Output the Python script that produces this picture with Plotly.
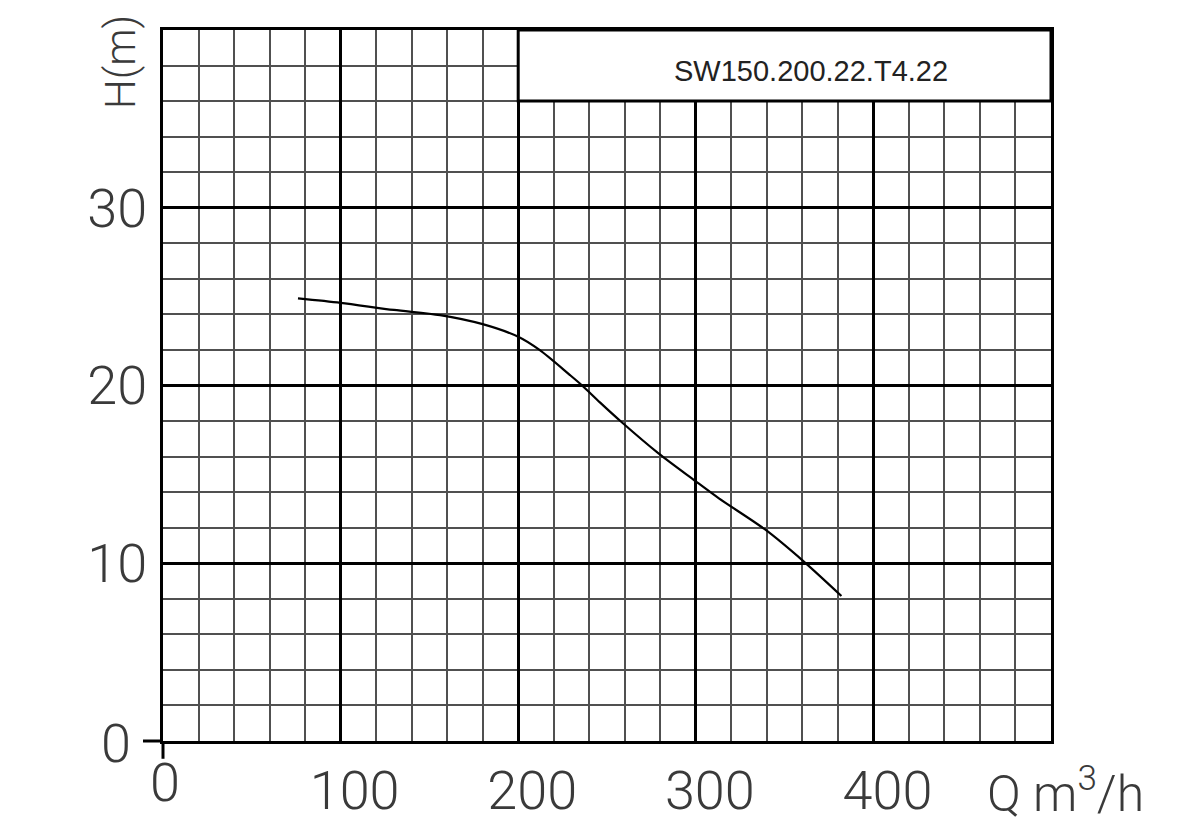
import plotly.graph_objects as go

# Pump curve data
q_flow = [76, 100, 130, 156, 180, 200, 212, 229, 236, 246, 258, 279, 299, 313, 339, 361, 382]
h_head = [24.9, 24.65, 24.25, 23.96, 23.45, 22.74, 22.0, 20.6, 20.0, 19.05, 17.96, 16.18, 14.68, 13.65, 11.9, 10.08, 8.16]
x_ticks = [100, 200, 300, 400]
x_labels = ["100", "200", "300", "400"]
y_ticks = [10, 20, 30]
y_labels = ["10", "20", "30"]
model_name = "SW150.200.22.T4.22"
x_title = "Q m<sup>3</sup>/h"
y_title = "H(m)"

THIN = "Roboto, Liberation Sans Narrow, sans-serif"
tick_font = dict(family=THIN, size=54, color="#3a3a3a", weight=300)

fig = go.Figure()
fig.add_trace(go.Scatter(
    x=q_flow, y=h_head, mode="lines",
    line=dict(color="black", width=2.2, shape="spline", smoothing=0.8),
    hoverinfo="skip",
))

fig.update_layout(
    width=1192, height=824,
    margin=dict(l=155, r=149, t=22, b=91, autoexpand=False),
    paper_bgcolor="white", plot_bgcolor="white",
    showlegend=False,
    xaxis=dict(
        range=[0, 500], tickmode="array", tickvals=x_ticks, ticktext=x_labels,
        ticks="", showgrid=True, gridcolor="black", gridwidth=3,
        minor=dict(tick0=0, dtick=20, showgrid=True, gridcolor="#505050", gridwidth=2),
        showline=True, linecolor="black", linewidth=3, mirror=True,
        zeroline=False, tickfont=tick_font, ticklabelstandoff=0, ticklabelshift=14,
        fixedrange=True, automargin=False,
    ),
    yaxis=dict(
        range=[0, 40], tickmode="array", tickvals=y_ticks, ticktext=y_labels,
        ticks="", showgrid=True, gridcolor="black", gridwidth=3,
        minor=dict(tick0=0, dtick=2, showgrid=True, gridcolor="#505050", gridwidth=2),
        showline=True, linecolor="black", linewidth=3, mirror=True,
        zeroline=False, tickfont=tick_font, ticklabelstandoff=2,
        fixedrange=True, automargin=False,
    ),
    shapes=[
        # model name box
        dict(type="rect", xref="x", yref="y", x0=200, x1=500, y0=36, y1=40,
             fillcolor="white", line=dict(color="black", width=3), layer="above"),
        # axis line extensions at origin
        dict(type="line", xref="paper", yref="paper", x0=-0.0225, x1=0, y0=0, y1=0,
             line=dict(color="black", width=3)),
        dict(type="line", xref="paper", yref="paper", x0=0, x1=0, y0=-0.025, y1=0,
             line=dict(color="black", width=3)),
    ],
    annotations=[
        dict(text=model_name, x=365, y=37.7, xref="x", yref="y", showarrow=False,
             font=dict(family="Liberation Sans, Arial, sans-serif", size=29, color="#222"),
             xanchor="center", yanchor="middle"),
        dict(text="0", x=0, y=0, xref="x", yref="y", showarrow=False,
             font=tick_font, xanchor="right", yanchor="middle", xshift=-30, yshift=-2),
        dict(text="0", x=0, y=0, xref="x", yref="y", showarrow=False,
             font=tick_font, xanchor="center", yanchor="top", xshift=2, yshift=-8),
        dict(text=x_title, x=0.9257, y=-0.069, xref="paper", yref="paper", showarrow=False,
             font=dict(family=THIN, size=50, color="#3a3a3a", weight=300),
             xanchor="left", yanchor="middle"),
        dict(text=y_title, x=-0.0473, y=0.955, xref="paper", yref="paper", showarrow=False,
             font=dict(family=THIN, size=42, color="#3a3a3a", weight=300), textangle=-90,
             xanchor="center", yanchor="middle"),
    ],
)

fig.write_html("out.html")
